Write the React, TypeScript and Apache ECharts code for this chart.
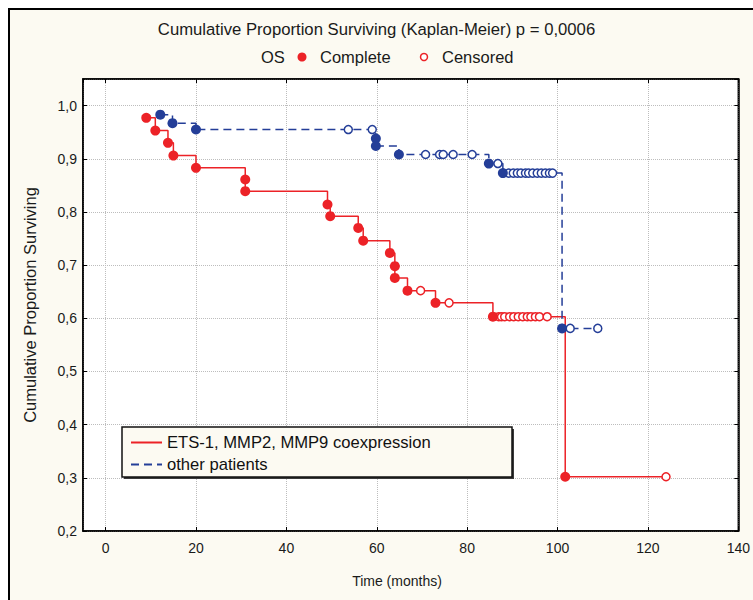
import React, { useEffect, useRef } from 'react';
import * as echarts from 'echarts';

// ---- Data ----
const redName = 'ETS-1, MMP2, MMP9 coexpression';
const blueName = 'other patients';

const redEventTimes = [9.0, 11.0, 13.8, 15.0, 20.0, 30.9, 30.9, 49.1, 49.7, 55.9, 57.0, 62.9, 64.0, 64.0, 66.8, 73.0, 85.7, 101.7];
const redEventSurv = [0.977, 0.953, 0.930, 0.906, 0.883, 0.861, 0.839, 0.814, 0.792, 0.770, 0.746, 0.723, 0.698, 0.676, 0.652, 0.629, 0.603, 0.302];
const redCensored = [69.7, 76.0, 87.0, 87.6, 88.3, 89.4, 90.3, 91.3, 92.3, 93.3, 94.1, 95.1, 96.0, 97.7, 124.0];

const blueEventTimes = [12.1, 14.8, 20.0, 59.8, 59.8, 64.9, 84.8, 87.9, 101.0];
const blueEventSurv = [0.983, 0.967, 0.955, 0.938, 0.924, 0.908, 0.891, 0.873, 0.581];
const blueCensored = [53.7, 59.0, 70.8, 73.9, 74.7, 76.9, 81.1, 86.8, 89.2, 90.2, 91.1, 91.9, 92.9, 93.6, 94.5, 95.5, 96.4, 97.3, 98.2, 98.9, 102.8, 108.9];

const xMin = -5;
const xMax = 140;
const yMin = 0.2;
const yMax = 1.05;

const RED = '#EC2227';
const BLUE = '#243E98';
const FONT = '"Liberation Sans", Arial, sans-serif';

function survAt(times: number[], surv: number[], t: number): number {
  let s = 1;
  for (let i = 0; i < times.length; i++) {
    if (times[i] <= t) s = surv[i];
  }
  return s;
}

function buildLine(times: number[], surv: number[], cens: number[]): number[][] {
  const pts: { t: number; s: number; k: number; i: number }[] = [];
  times.forEach((t, i) => pts.push({ t, s: surv[i], k: 0, i }));
  cens.forEach((t, i) => pts.push({ t, s: survAt(times, surv, t), k: 1, i }));
  pts.sort((a, b) => (a.t - b.t) || (a.k - b.k) || (a.i - b.i));
  return pts.map((p) => [p.t, p.s]);
}

export default function App() {
  const ref = useRef<HTMLDivElement>(null);

  useEffect(() => {
    if (!ref.current) return;
    const chart = echarts.init(ref.current, undefined, { renderer: 'svg' });

    const redLine = buildLine(redEventTimes, redEventSurv, redCensored);
    const blueLine = buildLine(blueEventTimes, blueEventSurv, blueCensored);
    const redEv = redEventTimes.map((t, i) => [t, redEventSurv[i]]);
    const blueEv = blueEventTimes.map((t, i) => [t, blueEventSurv[i]]);
    const redCe = redCensored.map((t) => [t, survAt(redEventTimes, redEventSurv, t)]);
    const blueCe = blueCensored.map((t) => [t, survAt(blueEventTimes, blueEventSurv, t)]);

    const tickFmt = (v: number) => v.toFixed(1).replace('.', ',');

    chart.setOption({
      animation: false,
      backgroundColor: 'transparent',
      textStyle: { fontFamily: FONT },
      title: {
        text: 'Cumulative Proportion Surviving (Kaplan-Meier) p = 0,0006',
        left: 'center',
        top: 21,
        padding: 0,
        textStyle: { fontSize: 16.7, fontWeight: 'normal', color: '#1a1a1a', fontFamily: FONT },
      },
      grid: {
        left: 83,
        right: 8,
        top: 79,
        bottom: 69,
        show: true,
        backgroundColor: '#ffffff',
        borderColor: '#000',
        borderWidth: 1.5,
      },
      legend: {
        orient: 'vertical',
        left: 122,
        top: 428,
        padding: [6, 10, 6, 8],
        itemWidth: 31,
        itemHeight: 14,
        itemGap: 5,
        z: 60,
        itemStyle: { opacity: 0 },
        textStyle: { fontSize: 16.6, color: '#111', fontFamily: FONT },
        data: [redName, blueName],
      },
      xAxis: [
        {
          type: 'value',
          min: xMin,
          max: xMax,
          splitNumber: 7,
          axisLine: { show: true, onZero: false, lineStyle: { color: '#000', width: 1.5 } },
          axisTick: { show: true, inside: true, length: 4, lineStyle: { color: '#000' } },
          axisLabel: { showMinLabel: false, fontSize: 14, color: '#1a1a1a', margin: 10, fontFamily: FONT },
          splitLine: { show: true, lineStyle: { type: 'dotted', color: '#bdbdbd', width: 1 } },
        },
        {
          type: 'value',
          position: 'top',
          min: xMin,
          max: xMax,
          splitNumber: 7,
          axisLine: { show: true, onZero: false, lineStyle: { color: '#000', width: 1.5 } },
          axisTick: { show: true, inside: true, length: 4, lineStyle: { color: '#000' } },
          axisLabel: { show: false },
          splitLine: { show: false },
        },
      ],
      yAxis: [
        {
          type: 'value',
          min: yMin,
          max: yMax,
          interval: 0.1,
          name: 'Cumulative Proportion Surviving',
          nameLocation: 'middle',
          nameGap: 45,
          nameTextStyle: { fontSize: 16.5, color: '#1a1a1a', fontFamily: FONT },
          axisLine: { show: true, onZero: false, lineStyle: { color: '#000', width: 1.5 } },
          axisTick: { show: true, inside: true, length: 4, lineStyle: { color: '#000' } },
          axisLabel: { showMaxLabel: false, fontSize: 14, color: '#1a1a1a', margin: 6, formatter: tickFmt, fontFamily: FONT },
          splitLine: { show: true, lineStyle: { type: 'dotted', color: '#bdbdbd', width: 1 } },
        },
        {
          type: 'value',
          position: 'right',
          min: yMin,
          max: yMax,
          interval: 0.1,
          axisLine: { show: true, onZero: false, lineStyle: { color: '#000', width: 1.5 } },
          axisTick: { show: true, inside: true, length: 4, lineStyle: { color: '#000' } },
          axisLabel: { show: false },
          splitLine: { show: false },
        },
      ],
      graphic: [
        { type: 'text', x: 261, y: 57, z: 10, style: { text: 'OS', fontSize: 16.5, fill: '#1a1a1a', fontFamily: FONT, verticalAlign: 'middle' } },
        { type: 'circle', z: 10, shape: { cx: 302, cy: 57, r: 4.5 }, style: { fill: RED } },
        { type: 'text', x: 320, y: 57, z: 10, style: { text: 'Complete', fontSize: 16.5, fill: '#1a1a1a', fontFamily: FONT, verticalAlign: 'middle' } },
        { type: 'circle', z: 10, shape: { cx: 424, cy: 57, r: 3.5 }, style: { fill: '#fff', stroke: RED, lineWidth: 1.5 } },
        { type: 'text', x: 442, y: 57, z: 10, style: { text: 'Censored', fontSize: 16.5, fill: '#1a1a1a', fontFamily: FONT, verticalAlign: 'middle' } },
        { type: 'text', x: 397, y: 581, z: 10, style: { text: 'Time (months)', fontSize: 14, fill: '#1a1a1a', fontFamily: FONT, align: 'center', verticalAlign: 'middle' } },
        { type: 'rect', z: 49, shape: { x: 124, y: 429, width: 390, height: 50 }, style: { fill: '#3a3a3a' } },
        { type: 'rect', z: 50, shape: { x: 122, y: 427, width: 390, height: 50 }, style: { fill: '#FCFAF2', stroke: '#111', lineWidth: 1.5 } },
      ],
      series: [
        {
          name: redName,
          type: 'line',
          step: 'end',
          data: redLine,
          symbol: 'none',
          lineStyle: { color: RED, width: 1.5 },
          itemStyle: { color: RED },
          z: 2,
        },
        {
          name: blueName,
          type: 'line',
          step: 'end',
          data: blueLine,
          symbol: 'none',
          lineStyle: { color: BLUE, width: 1.5, type: [8, 5] },
          itemStyle: { color: BLUE },
          z: 2,
        },
        {
          name: 'red-censored',
          type: 'scatter',
          data: redCe,
          symbol: 'circle',
          symbolSize: 8,
          itemStyle: { color: '#fff', borderColor: RED, borderWidth: 1.5, opacity: 1 },
          z: 3,
        },
        {
          name: 'blue-censored',
          type: 'scatter',
          data: blueCe,
          symbol: 'circle',
          symbolSize: 8,
          itemStyle: { color: '#fff', borderColor: BLUE, borderWidth: 1.5, opacity: 1 },
          z: 3,
        },
        {
          name: 'red-complete',
          type: 'scatter',
          data: redEv,
          symbol: 'circle',
          symbolSize: 10,
          itemStyle: { color: RED, opacity: 1 },
          z: 4,
        },
        {
          name: 'blue-complete',
          type: 'scatter',
          data: blueEv,
          symbol: 'circle',
          symbolSize: 10,
          itemStyle: { color: BLUE, opacity: 1 },
          z: 4,
        },
      ],
    });

    return () => chart.dispose();
  }, []);

  return (
    <div style={{ position: 'fixed', left: 0, top: 0, width: 753, height: 600, background: '#fff', overflow: 'hidden' }}>
      <div
        style={{
          position: 'absolute',
          left: 8,
          top: 8,
          width: 820,
          height: 700,
          background: '#FCFAF2',
          borderLeft: '2.5px solid #000',
          borderTop: '2.5px solid #000',
        }}
      />
      <div ref={ref} style={{ position: 'absolute', left: 0, top: 0, width: 753, height: 600 }} />
    </div>
  );
}
